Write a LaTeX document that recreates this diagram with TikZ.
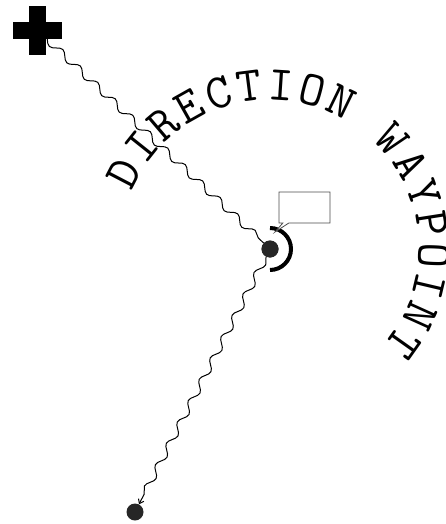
\documentclass[tikz,border=0pt]{standalone}
\usepackage{fontspec}
\usetikzlibrary{arrows.meta,decorations.pathmorphing,shapes.callouts}

\begin{document}
\begin{tikzpicture}[
    x=1pt, y=1pt,
    dot/.style={circle, fill=black!85, inner sep=0pt, minimum size=17pt},
    plusarm/.style={fill=black, inner sep=0pt},
    wavy/.style={decorate, decoration={snake, amplitude=3.5pt, segment length=24pt, post length=5pt}, line width=1pt},
    note/.style={rectangle callout, draw=black!70, fill=white, line width=0.8pt, inner sep=0pt,
                 minimum width=51pt, minimum height=31pt, callout pointer width=6pt},
    letter/.style={font=\ttfamily\fontsize{49}{49}\selectfont, inner sep=0pt},
    >={Straight Barb[length=4pt, width=6pt]}
]
    \useasboundingbox (0,0) rectangle (446,-524);

    % waypoints
    \node[dot] (hub) at (270,-249) {};
    \node[dot] (next) at (135,-512) {};
    \coordinate (start) at (37.5,-30.5);

    % wavy legs
    \draw[wavy] (start) -- (hub);
    \draw[wavy, ->] (hub) -- (next);

    % start cross
    \node[plusarm, minimum width=49pt, minimum height=17pt] (crossh) at (start) {};
    \node[plusarm, minimum width=17pt, minimum height=49pt] (crossv) at (start) {};
    \node[dot] at (hub) {};

    % heading arc and note box
    \draw[line width=4pt] ([shift={(90:21)}]hub.center) arc[start angle=90, end angle=-90, radius=21];
    \node[note, callout absolute pointer={(275,-232)}] (label) at (304.5,-207.5) {};

    % text on arc
    \foreach \ch [count=\i from 0] in {D,I,R,E,C,T,I,O,N,{},W,A,Y,P,O,I,N,T} {
        \pgfmathsetmacro\ang{152.5-11.05*\i}
        \node[letter, rotate=\ang-90] at ([shift={(\ang:164)}]hub.center) {\ch};
    }
\end{tikzpicture}
\end{document}
